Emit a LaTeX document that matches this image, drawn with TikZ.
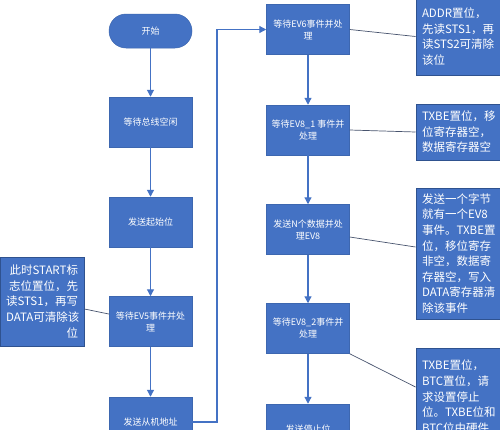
\documentclass[tikz,border=0pt]{standalone}
\usepackage{fontspec}
\setmainfont{Noto Sans CJK SC}
\usepackage{xcolor}
\usepackage{tikz}
\usetikzlibrary{arrows.meta}
\definecolor{officeBlue}{RGB}{68,114,196}
\definecolor{darkBlue}{RGB}{47,82,143}
\definecolor{slateLine}{RGB}{72,84,110}

\begin{document}
\begin{tikzpicture}[x=1pt, y=-1pt,
		every node/.style={font=\fontsize{9}{12}\selectfont, text=white, inner sep=0pt},
		procbox/.style={fill=officeBlue, draw=officeBlue!90!black, line width=0.5pt, minimum width=83pt, minimum height=50pt, align=center},
		startbox/.style={procbox, minimum height=34pt, rounded corners=17pt},
		notebox/.style={fill=officeBlue, draw=darkBlue, line width=1pt, font=\fontsize{11.5}{15.6}\selectfont},
		flow/.style={draw=officeBlue, line width=1.2pt, -{Triangle[width=7pt,length=7pt]}},
		link/.style={draw=slateLine, line width=0.7pt}]
		\clip (0,0) rectangle (500,429);
		\fill[white] (0,0) rectangle (500,429);
		% left column
		\node [startbox] (start) at (150.5,31) {开始};
		\node [procbox] (idle) at (150.5,122) {等待总线空闲};
		\node [procbox] (startbit) at (150.5,222) {发送起始位};
		\node [procbox] (ev5) at (150.5,321.5) {等待EV5事件并处\\理};
		\node [procbox] (slave) at (150.5,422) {发送从机地址};
		% right column
		\node [procbox] (ev6) at (308,29.5) {等待EV6事件并处\\理};
		\node [procbox] (ev81) at (308,130) {等待EV8\_1 事件并\\处理};
		\node [procbox] (ndata) at (308,229.5) {发送N个数据并处\\理EV8};
		\node [procbox] (ev82) at (308,328.5) {等待EV8\_2事件并\\处理};
		\node [procbox] (stopbit) at (308,429) {发送停止位};
		% notes
		\node [notebox, minimum width=84pt, minimum height=89pt, text width=72pt, align=right] (noteEv5) at (42,301.5)
			{此时START标\\志位置位，先\\读STS1，再写\\DATA可清除该\\位};
		\node [notebox, minimum width=90pt, minimum height=77pt, text width=78pt, align=left] (noteEv6) at (461,36.5)
			{ADDR置位，\\先读STS1，再\\读STS2可清除\\该位};
		\node [notebox, minimum width=90pt, minimum height=56pt, text width=78pt, align=left] (noteEv81) at (461,132)
			{TXBE置位，移\\位寄存器空，\\数据寄存器空};
		\node [notebox, minimum width=90pt, minimum height=131pt, text width=78pt, align=left] (noteData) at (461,253.5)
			{发送一个字节\\就有一个EV8\\事件。TXBE置\\位，移位寄存\\非空，数据寄\\存器空，写入\\DATA寄存器清\\除该事件};
		\node [notebox, minimum width=90pt, minimum height=112pt, text width=78pt, align=left] (noteEv82) at (461,404)
			{TXBE置位，\\BTC置位，请\\求设置停止\\位。TXBE位和\\BTC位由硬件\\\mbox{}};
		% arrows
		\draw [flow] (start) -- (idle);
		\draw [flow] (idle) -- (startbit);
		\draw [flow] (startbit) -- (ev5);
		\draw [flow] (ev5) -- (slave);
		\coordinate (loop) at (217,30);
		\draw [flow] (slave.east) -- (slave.east -| loop) |- (ev6.west);
		\draw [flow] (ev6) -- (ev81);
		\draw [flow] (ev81) -- (ndata);
		\draw [flow] (ndata) -- (ev82);
		\draw [flow] (ev82) -- (stopbit);
		% note links
		\draw [link] ([yshift=-7.5pt]noteEv5.east) -- ([yshift=7.5pt]ev5.west);
		\draw [link] (ev6.east) -- (noteEv6.west);
		\draw [link] (ev81.east) -- (noteEv81.west);
		\draw [link] ([yshift=-7.5pt]ndata.east) -- ([yshift=6.5pt]noteData.west);
		\draw [link] (ev82.south east) -- ([yshift=17pt]noteEv82.west);
	\end{tikzpicture}
\end{document}
